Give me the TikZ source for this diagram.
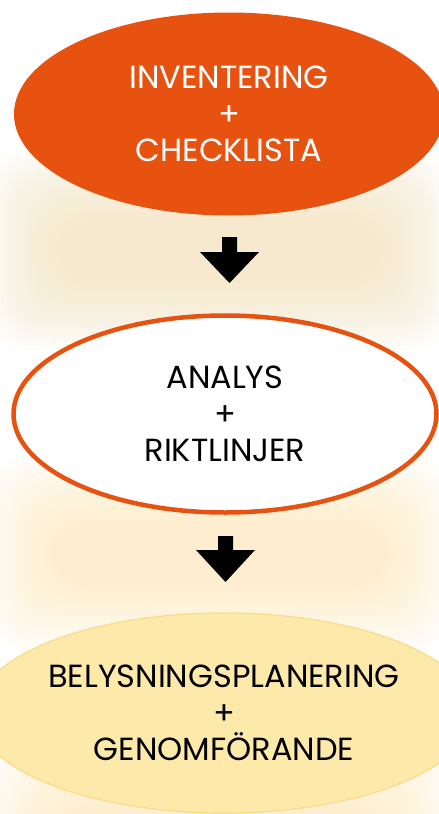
\documentclass[tikz,border=0pt]{standalone}
\usepackage{fontspec}
\setmainfont{Poppins}
\usetikzlibrary{shapes.geometric}
\definecolor{orangeA}{HTML}{E85210}
\definecolor{yellowA}{HTML}{FDE9AA}
\definecolor{yellowB}{HTML}{FADB88}
\definecolor{glowA}{HTML}{F7E2B8}
\definecolor{glowB}{HTML}{FEEBB8}
\tikzset{
  stage/.style={ellipse, minimum width=430pt, minimum height=203pt, inner sep=0pt, align=center, font=\fontsize{32}{36.5}\selectfont},
  blockarrow/.style={fill=black, draw=none},
  glowlayer/.style={opacity=0.06, rounded corners=40pt},
}
\begin{document}
\begin{tikzpicture}[x=1pt,y=-1pt]
\useasboundingbox[fill=white] (0,0) rectangle (439,814);
% glows
\foreach \k in {0,...,15}{
  \fill[glowlayer, glowA] (-12+4.5*\k,150+4.5*\k) rectangle (451-4.5*\k,350-4.5*\k);
  \fill[glowlayer, glowB] (-12+4.5*\k,458+4.5*\k) rectangle (451-4.5*\k,650-4.5*\k);
  \fill[glowlayer, glowB] (-12+4.5*\k,745+4.5*\k) rectangle (451-4.5*\k,930-4.5*\k);
}
% stages
\node[stage, fill=orangeA, text=white] (s1) at (229,114) {INVENTERING\\+\\CHECKLISTA};
\node[stage, fill=white, draw=orangeA, line width=4.5pt, minimum width=423pt, minimum height=197pt] (s2) at (225,414) {ANALYS\\+\\RIKTLINJER};
\node[stage, fill=yellowA, draw=yellowB, line width=1.2pt, minimum width=428pt, minimum height=200pt] (s3) at (224,713) {BELYSNINGSPLANERING\\+\\GENOMFÖRANDE};
% arrows
\coordinate (a1) at (229.5,237);
\coordinate (a2) at (225.5,536);
\fill[blockarrow] (a1) ++(-7.5,0) -- ++(15,0) -- ++(0,15) -- ++(22,0) -- (229.5,283) -- (200,252) -- ++(22,0) -- cycle;
\fill[blockarrow] (a2) ++(-7.5,0) -- ++(15,0) -- ++(0,14) -- ++(22,0) -- (225.5,582) -- (196,550) -- ++(22,0) -- cycle;
\end{tikzpicture}
\end{document}
